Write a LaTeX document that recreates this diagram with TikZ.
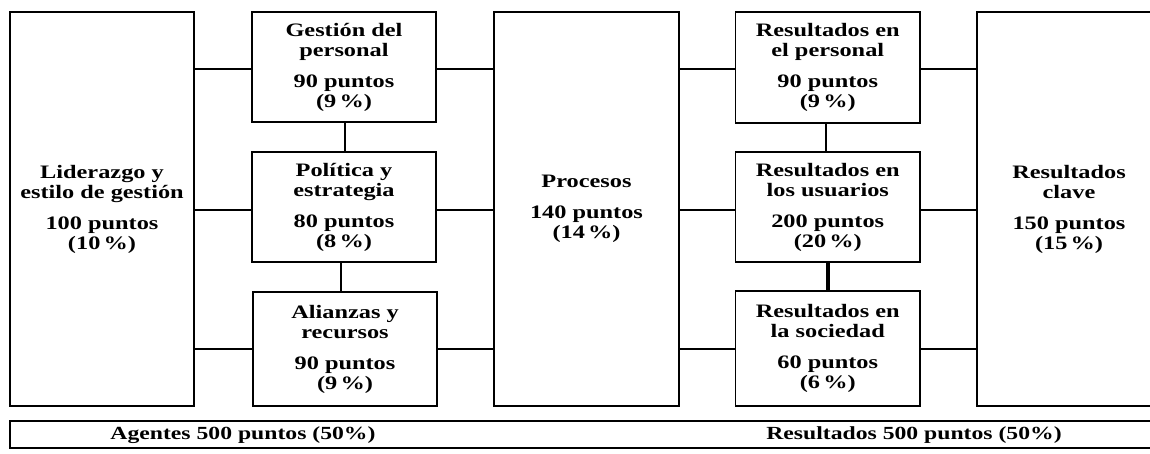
\documentclass[tikz,border=0pt]{standalone}
\usepackage{fontspec}
\setmainfont{Liberation Serif}
\newfontfamily\widefam{Liberation Serif}[FakeStretch=1.28]
\begin{document}
\begin{tikzpicture}[x=1pt,y=-1pt,
  basebox/.style={draw, line width=1.9pt, inner sep=0pt, align=center},
  tbox/.style={basebox, font=\widefam\bfseries\fontsize{19}{20}\selectfont},
  link/.style={line width=1.8pt},
  thicklink/.style={line width=3.6pt},
  bartext/.style={inner sep=0pt, font=\widefam\bfseries\fontsize{18.5}{19}\selectfont}]
\useasboundingbox (0,0) rectangle (1150,453);
\clip (0,0) rectangle (1150,453);
\fill[white] (0,0) rectangle (1150,453);
% agentes
\node[tbox, minimum width=184pt, minimum height=394pt] (lid) at (102,209)
  {Liderazgo y\\estilo de gestión\\[11pt]100 puntos\\(10\,\%)};
\node[tbox, minimum width=184pt, minimum height=110pt] (ges) at (344,67)
  {Gestión del\\personal\\[11pt]90 puntos\\(9\,\%)};
\node[tbox, minimum width=184pt, minimum height=110pt] (pol) at (344,207)
  {Política y\\estrategia\\[11pt]80 puntos\\(8\,\%)};
\node[tbox, minimum width=184pt, minimum height=114pt] (ali) at (345,349)
  {Alianzas y\\recursos\\[11pt]90 puntos\\(9\,\%)};
\node[tbox, minimum width=185pt, minimum height=394pt] (pro) at (586.5,209)
  {Procesos\\[11pt]140 puntos\\(14\,\%)};
% resultados
\node[tbox, minimum width=184.5pt, minimum height=111pt] (rp) at (827.75,67.5)
  {Resultados en\\el personal\\[11pt]90 puntos\\(9\,\%)};
\node[tbox, minimum width=184.5pt, minimum height=110pt] (ru) at (827.75,207)
  {Resultados en\\los usuarios\\[11pt]200 puntos\\(20\,\%)};
\node[tbox, minimum width=184.5pt, minimum height=115pt] (rs) at (827.75,348.5)
  {Resultados en\\la sociedad\\[11pt]60 puntos\\(6\,\%)};
\node[tbox, minimum width=184pt, minimum height=394pt] (rc) at (1069,209)
  {Resultados\\clave\\[11pt]150 puntos\\(15\,\%)};
% bottom bar
\node[basebox, line width=1.6pt, minimum width=1190pt, minimum height=27pt] (bar) at (605,434.5) {};
\node[bartext] (ag) at (243,435) {Agentes 500 puntos (50\%)};
\node[bartext] (re) at (914,435) {Resultados 500 puntos (50\%)};
% helper rows
\coordinate (h1) at (0,69);
\coordinate (h2) at (0,210);
\coordinate (h3) at (0,349);
% horizontal connectors
\draw[link] (lid.east |- h1) -- (ges.west |- h1);
\draw[link] (lid.east |- h2) -- (pol.west |- h2);
\draw[link] (lid.east |- h3) -- (ali.west |- h3);
\draw[link] (ges.east |- h1) -- (pro.west |- h1);
\draw[link] (pol.east |- h2) -- (pro.west |- h2);
\draw[link] (ali.east |- h3) -- (pro.west |- h3);
\draw[link] (pro.east |- h1) -- (rp.west |- h1);
\draw[link] (pro.east |- h2) -- (ru.west |- h2);
\draw[link] (pro.east |- h3) -- (rs.west |- h3);
\draw[link] (rp.east |- h1) -- (rc.west |- h1);
\draw[link] (ru.east |- h2) -- (rc.west |- h2);
\draw[link] (rs.east |- h3) -- (rc.west |- h3);
% vertical connectors
\draw[link] ([xshift=1pt]ges.south) -- ([xshift=1pt]pol.north);
\draw[link] ([xshift=-3pt]pol.south) -- ([xshift=-4pt]ali.north);
\draw[link] ([xshift=-1.5pt]rp.south) -- ([xshift=-1.5pt]ru.north);
\draw[thicklink] ([xshift=0.5pt]ru.south) -- ([xshift=0.5pt]rs.north);
\end{tikzpicture}
\end{document}
